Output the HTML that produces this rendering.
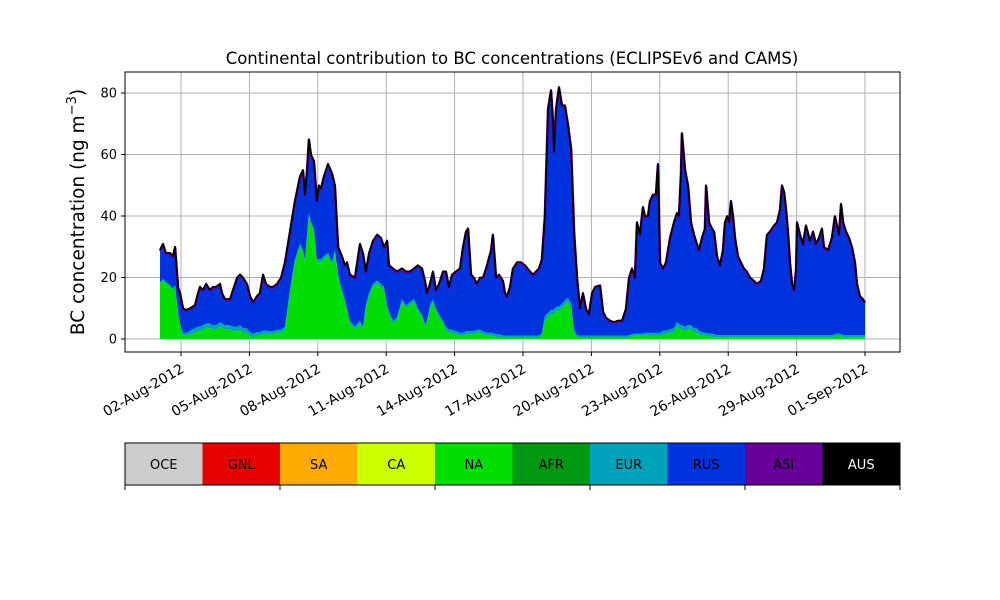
<!DOCTYPE html>
<html><head><meta charset="utf-8"><style>
body{margin:0;background:#fff;}
svg{display:block;font-family:"DejaVu Sans","Liberation Sans",sans-serif;}
</style></head><body>
<svg id="chart" width="1000" height="600" viewBox="0 0 1000 600">
<text x="512" y="64" font-size="16.5" text-anchor="middle">Continental contribution to BC concentrations (ECLIPSEv6 and CAMS)</text>
<text transform="translate(84,212) rotate(-90)" font-size="18.5" text-anchor="middle">BC concentration (ng m<tspan dy="-8" font-size="13">−3</tspan><tspan dy="8">)</tspan></text>
<g id="grid"></g>
<g id="areas"></g>
<g id="axes"></g>
<g id="legend"></g>
</svg>
<script>
// days since 2012-08-01 00:00
const days=[0.08,0.21,0.34,0.52,0.65,0.74,0.87,0.96,1.09,1.22,
1.39,1.61,1.75,1.83,1.96,2.10,2.27,2.40,2.54,2.71,
2.80,2.93,3.15,3.28,3.46,3.59,3.72,3.89,4.03,4.16,
4.33,4.46,4.60,4.73,4.90,5.04,5.21,5.39,5.56,5.78,
6.00,6.22,6.35,6.44,6.53,6.61,6.70,6.83,6.96,7.05,
7.14,7.27,7.45,7.62,7.75,7.89,8.06,8.19,8.28,8.41,
8.63,8.85,8.98,9.11,9.25,9.42,9.60,9.77,9.90,10.04,
10.12,10.30,10.47,10.69,10.87,11.04,11.22,11.39,11.57,11.70,
11.79,11.92,12.05,12.18,12.32,12.49,12.62,12.75,12.89,13.06,
13.24,13.37,13.50,13.59,13.72,13.85,13.98,14.11,14.25,14.42,
14.60,14.68,14.82,14.95,15.12,15.21,15.30,15.43,15.56,15.74,
15.91,16.09,16.31,16.44,16.57,16.70,16.83,16.96,17.10,17.23,
17.32,17.36,17.45,17.58,17.71,17.84,17.97,18.11,18.24,18.37,
18.50,18.63,18.76,18.89,19.03,19.16,19.38,19.51,19.64,19.82,
19.99,20.17,20.34,20.52,20.65,20.78,20.91,21.00,21.13,21.26,
21.35,21.48,21.57,21.70,21.83,21.92,22.01,22.14,22.27,22.45,
22.62,22.75,22.84,22.93,22.97,23.11,23.24,23.37,23.50,23.63,
23.72,23.85,23.98,24.03,24.16,24.29,24.38,24.51,24.64,24.77,
24.86,24.95,25.04,25.12,25.21,25.30,25.43,25.56,25.69,25.82,
25.96,26.13,26.26,26.44,26.57,26.70,26.83,27.01,27.14,27.27,
27.36,27.45,27.54,27.62,27.71,27.80,27.89,27.98,28.02,28.15,
28.28,28.41,28.59,28.72,28.85,28.98,29.11,29.20,29.38,29.55,
29.68,29.77,29.86,29.95,30.04,30.17,30.30,30.43,30.56,30.65,
30.78,30.91,31.00];
const total=[29,31,28,28,27,30,17,15,10,9.5,
10,11,15,17,16,18,16,17,17,18,
15,13,13,16,20,21,20,18,14,12,
14,15,21,18,17,17,18,20,25,35,
45,53,55,47,55,65,60,58,45,50,
49,53,57,54,50,30,27,24,25,21,
20,31,28,22,28,32,34,33,30,32,
24,23,22,23,22,22,23,24,23,19,
15,18,22,16,18,22,22,17,21,22,
23,30,35,36,21,20,18,20,20,24,
29,34,20,21,19,15,14,17,23,25,
25,24,22,21,22,23,26,40,75,81,
70,61,75,82,76,76,70,62,35,20,
10,15,10,8,15,17,17.5,9,7,6,
5.5,6,6,10,20,23,20,38,34,43,
40,40,45,47,47,57,25,23,25,33,
38,41,40,54,67,55,50,38,34,31,
29,33,36,50,38,36,35,27,24,29,
38,40,38,45,40,33,27,25,23,22,
20,19,18,19,23,34,35,37,38,42,
50,48,42,35,25,18,16,23,38,34,
31,37,32,35,31,33,36,30,29,33,
40,37,34,44,38,35,33,30,25,18,
14,13,12];
const naVals=[18,19,18,17,16,17,8,4,1,1,
1.5,2,2.5,2.5,3,3.5,3.5,3,3,4,
3.5,3,3,2.5,2.5,3,2,2,1,0.5,
1,1,1.5,1.5,1.5,1.5,2,2,3,15,
25,30,28,25,33,40,37,35,25,25,
25,26,27,24,28,20,15,12,9,5,
3,5,3,10,14,17,18,17,16,10,
8,5,6,12,10,11,12,9,7,4,
5,10,12,9,7,5,3,2,2,1.5,
1,1,1.5,1.5,1.5,1.5,2,2,1.5,1,
1,1,0.5,0.5,0.3,0.3,0.3,0.3,0.3,0.3,
0.3,0.3,0.3,0.3,0.3,0.3,1,6,7,8,
8,8,9,9,10,11,12,10,2,0.5,
0.3,0.3,0.3,0.3,0.3,0.3,0.3,0.3,0.3,0.3,
0.3,0.3,0.3,0.3,0.5,0.8,1,1,1,1,
1,1,1,1,1,1,1,1.5,1.5,2,
2,4,3.5,3,3,2.5,3,3,2,2,
1.5,1,1,1,0.8,0.7,0.6,0.4,0.4,0.4,
0.4,0.4,0.4,0.4,0.4,0.4,0.4,0.4,0.4,0.4,
0.4,0.4,0.4,0.4,0.4,0.4,0.4,0.4,0.4,0.4,
0.4,0.4,0.4,0.4,0.4,0.4,0.4,0.4,0.4,0.4,
0.4,0.4,0.4,0.4,0.4,0.4,0.4,0.4,0.4,0.4,
0.8,1,1,0.8,0.6,0.4,0.4,0.4,0.4,0.4,
0.4,0.4,0.4];
const eurVals=[0.5,0.5,0.5,0.5,0.5,0.5,0.8,1,1,1,
1.2,1.5,1.5,1.5,1.5,1.5,1.5,1.5,1.5,1.5,
1.5,1.5,1.5,1.5,1.5,1.5,1.5,1.5,1.2,1.2,
1.2,1.2,1.2,1.2,1,1,1,1,1,1,
1,1,1,1,1,1,1,1,1,1,
1,1,1,1,1,1,1,1,1,1,
1,1,1,1,1,1,1,1,1,1,
1,1,1,1,1,1,1,1,1,1,
1,1,1,1,1,1,1,1,1,1,
1,1,1,1,1,1,1,1,1,1,
1,1,1,1,0.8,0.8,0.8,0.8,0.8,0.8,
0.8,0.8,0.8,0.8,0.8,0.8,1,1.5,1.5,1.5,
1.5,1.5,1.5,1.5,1.5,1.5,1.5,1.5,1,0.8,
0.8,0.8,0.8,0.8,0.8,0.8,0.8,0.8,0.8,0.8,
0.8,0.8,0.8,0.8,0.8,0.8,0.8,0.8,0.8,0.8,
1,1,1,1,1,1,1,1.2,1.2,1.2,
1.5,1.5,1.5,1.5,1.5,1.5,1.5,1.5,1.5,1.5,
1.2,1.2,1,1,1,1,1,0.8,0.8,0.8,
0.8,0.8,0.8,0.8,0.8,0.8,0.8,0.8,0.8,0.8,
0.8,0.8,0.8,0.8,0.8,0.8,0.8,0.8,0.8,0.8,
0.8,0.8,0.8,0.8,0.8,0.8,0.8,0.8,0.8,0.8,
0.8,0.8,0.8,0.8,0.8,0.8,0.8,0.8,0.8,0.8,
0.8,0.8,0.8,0.8,0.8,0.8,0.8,0.8,0.8,0.8,
0.8,0.8,0.8];
const xTickDays=[1,4,7,10,13,16,19,22,25,28,31];
const xTickLabels=["02-Aug-2012","05-Aug-2012","08-Aug-2012","11-Aug-2012","14-Aug-2012","17-Aug-2012","20-Aug-2012","23-Aug-2012","26-Aug-2012","29-Aug-2012","01-Sep-2012"];
const yTicks=[0,20,40,60,80];
const regions=["OCE","GNL","SA","CA","NA","AFR","EUR","RUS","ASI","AUS"];
const regionColors=["#cccccc","#e60000","#ffaa00","#ccff00","#00dd00","#009911","#00a3ba","#0033dd","#660099","#000000"];

const NS="http://www.w3.org/2000/svg";
const L=125,R=900,T=72,B=352;
const xs=d=>181+(d-1)*22.8;
const ys=v=>339-v*3.075;
function mk(tag,attrs,parent){const e=document.createElementNS(NS,tag);for(const k in attrs)e.setAttribute(k,attrs[k]);parent.appendChild(e);return e;}
const gridG=document.getElementById('grid'),areasG=document.getElementById('areas'),axesG=document.getElementById('axes'),legendG=document.getElementById('legend');

xTickDays.forEach((d,i)=>{
  const gl=mk('line',{x1:xs(d),x2:xs(d),y1:T,y2:B,stroke:'#b0b0b0','stroke-width':1},gridG);
  
  
  const tk=mk('line',{x1:xs(d),x2:xs(d),y1:B,y2:B+4,stroke:'#000','stroke-width':1},axesG);
  
  
  const t=mk('text',{transform:`translate(${xs(d)-1},${B+11}) rotate(-30)`,'text-anchor':'end','font-size':14,dy:'0.7em'},axesG);
  t.textContent=xTickLabels[i];
  
  
});
yTicks.forEach(v=>{
  const gl=mk('line',{x1:L,x2:R,y1:ys(v),y2:ys(v),stroke:'#b0b0b0','stroke-width':1},gridG);
  
  
  const tk=mk('line',{x1:L-4,x2:L,y1:ys(v),y2:ys(v),stroke:'#000'},axesG);
  
  
  const t=mk('text',{x:L-8,y:ys(v)+4.5,'text-anchor':'end','font-size':13},axesG);
  t.textContent=v;
  
  
});

function band(lo,hi,color,name){
  let d='M'+xs(days[0])+','+ys(hi[0]);
  for(let i=1;i<days.length;i++)d+='L'+xs(days[i]).toFixed(2)+','+ys(hi[i]).toFixed(2);
  for(let i=days.length-1;i>=0;i--)d+='L'+xs(days[i]).toFixed(2)+','+ys(lo[i]).toFixed(2);
  const p=mk('path',{d:d+'Z',fill:color},areasG);
  
  
}
const zeroLine=days.map(()=>0);
const naTop=naVals.slice();
const eurTop=naVals.map((v,i)=>v+eurVals[i]);
const rusTop=total.map((v,i)=>Math.max(v,eurTop[i]));
band(zeroLine,naTop,regionColors[4],'area-na');
band(naTop,eurTop,regionColors[6],'area-eur');
band(eurTop,rusTop,regionColors[7],'area-rus');
let ld='M'+xs(days[0])+','+ys(total[0]);
for(let i=1;i<days.length;i++)ld+='L'+xs(days[i]).toFixed(2)+','+ys(total[i]).toFixed(2);
const asiLine=mk('path',{d:ld,fill:'none',stroke:regionColors[8],'stroke-width':2.6,'stroke-linejoin':'round',transform:'translate(0,1)'},areasG);


const totalLine=mk('path',{d:ld,fill:'none',stroke:'#000','stroke-width':1.8,'stroke-linejoin':'round'},areasG);



const frame=mk('rect',{x:L,y:T,width:R-L,height:B-T,fill:'none',stroke:'#000','stroke-width':1},axesG);



const bw=(R-L)/regions.length;
regions.forEach((r,i)=>{
  const rc=mk('rect',{x:L+i*bw,y:443,width:bw+0.5,height:42,fill:regionColors[i]},legendG);
  
  
  const t=mk('text',{x:L+i*bw+bw/2,y:469,'text-anchor':'middle','font-size':13,fill:r==='AUS'?'#fff':'#000'},legendG);
  t.textContent=r;
  
  
});
const lf=mk('rect',{x:L,y:443,width:R-L,height:42,fill:'none',stroke:'#000','stroke-width':1},legendG);


for(let i=0;i<=regions.length;i+=2){
  const tk=mk('line',{x1:L+i*bw,x2:L+i*bw,y1:485,y2:490,stroke:'#000'},legendG);
  
  
}
</script>
</body></html>
